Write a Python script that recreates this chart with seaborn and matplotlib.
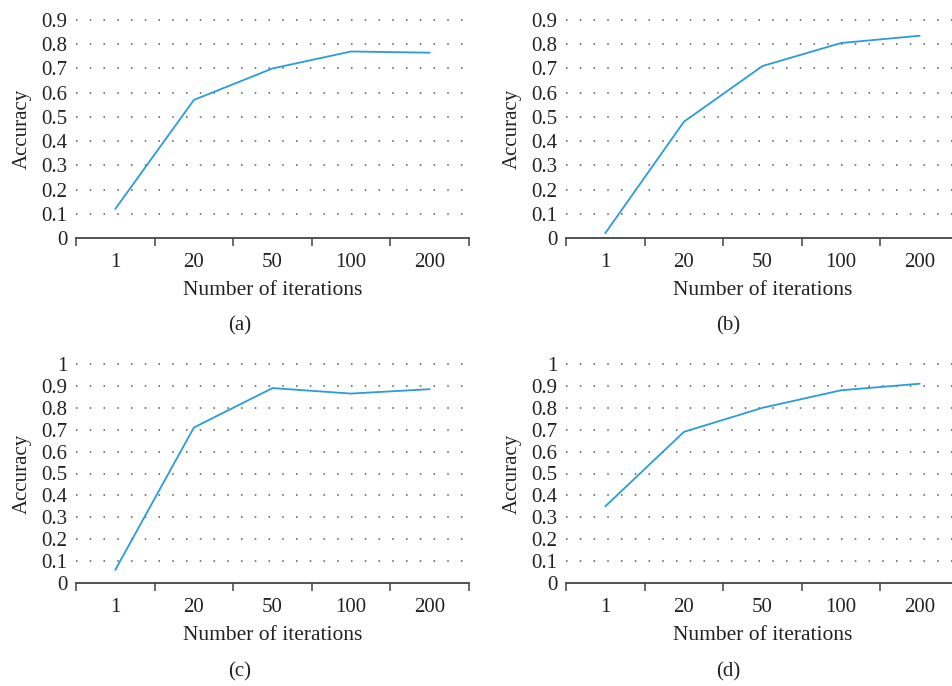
import numpy as np
import pandas as pd
import matplotlib
matplotlib.use("Agg")
import matplotlib.pyplot as plt
import seaborn as sns

sns.set_style("white")
plt.rcParams["font.family"] = ["Liberation Serif", "DejaVu Serif"]

iterations = ["1", "20", "50", "100", "200"]
acc_a = [0.12, 0.57, 0.70, 0.77, 0.765]
acc_b = [0.02, 0.48, 0.71, 0.805, 0.835]
acc_c = [0.06, 0.71, 0.89, 0.865, 0.885]
acc_d = [0.35, 0.69, 0.80, 0.88, 0.91]

line_color = "#2a9cd8"
text_color = "#222222"
W, H = 953, 686
fig = plt.figure(figsize=(W / 100, H / 100), dpi=100)


def panel(left_px, zero_px, top_px, ymax, values, caption, cap_x, cap_y):
    # place axes in pixel coords (origin top-left)
    ax = fig.add_axes([left_px / W, 1 - zero_px / H,
                       393 / W, (zero_px - top_px) / H])
    pos = np.arange(len(iterations))
    df = pd.DataFrame({"pos": pos, "acc": values})
    sns.lineplot(data=df, x="pos", y="acc", ax=ax, color=line_color,
                 linewidth=1.3)
    ax.set_xlim(-0.5, len(iterations) - 0.5)
    ax.set_ylim(0, ymax)
    yt = np.round(np.arange(0, ymax + 0.01, 0.1), 1)
    ax.set_yticks(yt)
    ax.set_yticklabels(["0" if v == 0 else ("1" if v == 1 else f"{v:g}") for v in yt])
    for v in yt[1:]:
        ax.axhline(v, color="#555555", linewidth=1.1, linestyle=(0, (1, 8)),
                   zorder=0, clip_on=False)
    # major ticks between categories, labels on minor ticks
    ax.set_xticks(np.arange(-0.5, len(iterations), 1.0))
    ax.set_xticklabels([])
    ax.set_xticks(pos, minor=True)
    ax.set_xticklabels(iterations, minor=True)
    ax.tick_params(axis="x", which="major", direction="out", length=6,
                   width=1.1, color="#444444", bottom=True)
    ax.tick_params(axis="x", which="minor", length=0, pad=11, labelsize=15,
                   labelcolor=text_color)
    ax.tick_params(axis="y", length=0, pad=6, labelsize=15, labelcolor=text_color)
    for s in ["left", "right", "top"]:
        ax.spines[s].set_visible(False)
    ax.spines["bottom"].set_color("#444444")
    ax.spines["bottom"].set_linewidth(1.3)
    ax.set_xlabel("Number of iterations", fontsize=15.5, color=text_color,
                  labelpad=6)
    ax.set_ylabel("Accuracy", fontsize=15, color=text_color, labelpad=7)
    fig.text(cap_x / W, 1 - cap_y / H, caption, ha="center", va="center",
             fontsize=15, color=text_color)
    return ax


panel(76, 238, 20, 0.9, acc_a, "(a)", 240, 326)
panel(566, 238, 20, 0.9, acc_b, "(b)", 728, 326)
panel(76, 583, 364, 1.0, acc_c, "(c)", 240, 672)
panel(566, 583, 364, 1.0, acc_d, "(d)", 728, 672)

fig.savefig("out.png", dpi=100)
